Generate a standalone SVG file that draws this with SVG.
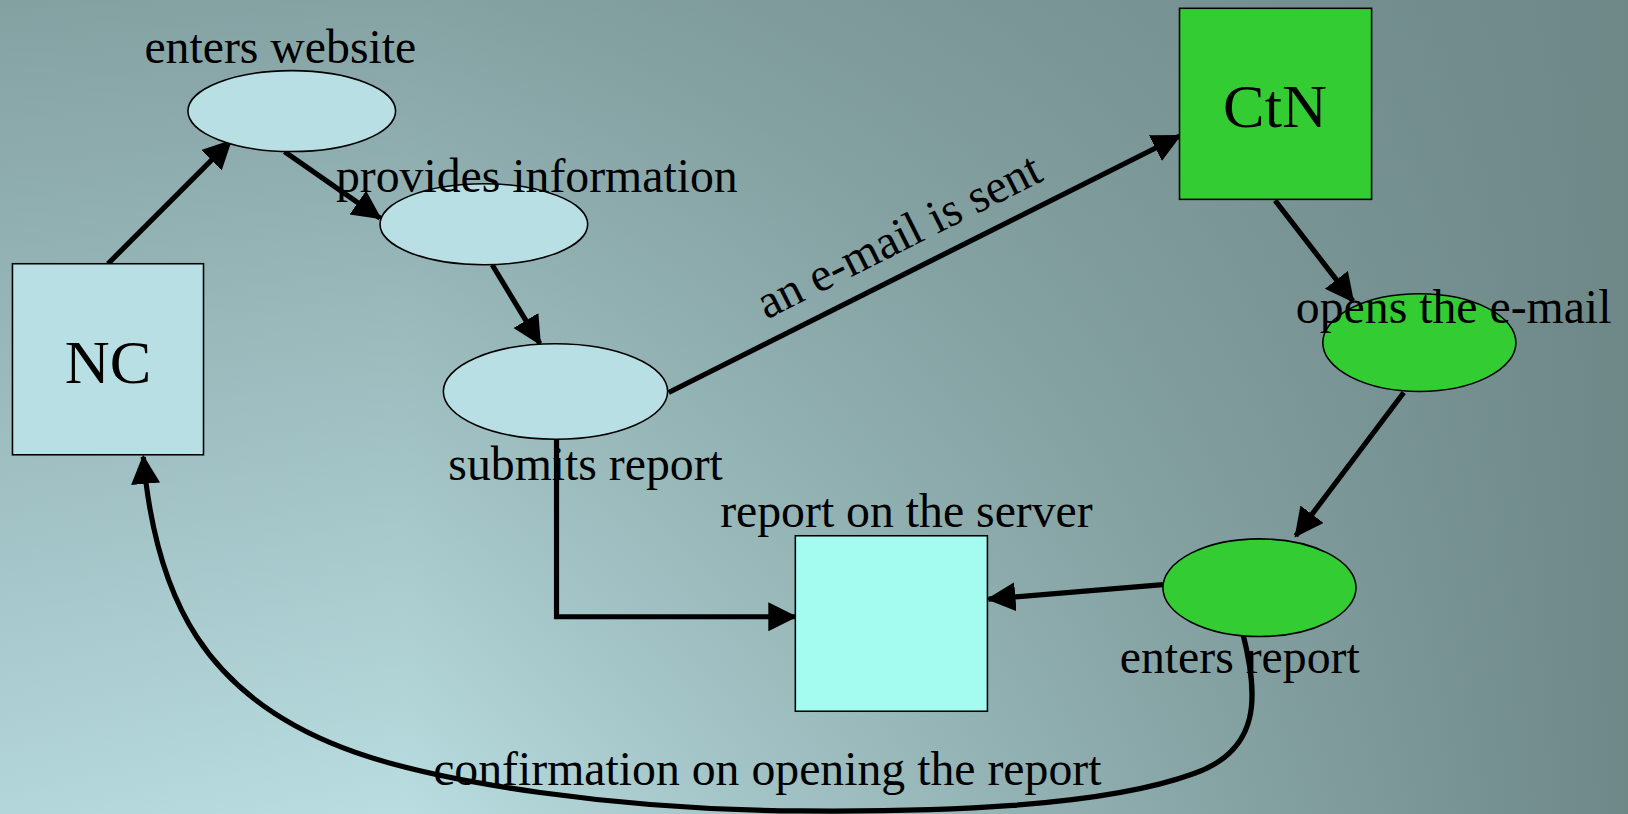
<svg xmlns="http://www.w3.org/2000/svg" width="1628" height="814" viewBox="0 0 1628 814">
<defs>
<linearGradient id="bgH" gradientUnits="userSpaceOnUse" x1="0" y1="0" x2="1628" y2="0">
<stop offset="0" stop-color="#b3d6da"/>
<stop offset="0.25" stop-color="#b9dde0"/>
<stop offset="1" stop-color="#6e8888"/>
</linearGradient>
<linearGradient id="bgV" gradientUnits="userSpaceOnUse" x1="0" y1="0" x2="0" y2="814">
<stop offset="0" stop-color="#6e8888" stop-opacity="0.68"/>
<stop offset="1" stop-color="#6e8888" stop-opacity="0"/>
</linearGradient>
<marker id="arr" markerUnits="userSpaceOnUse" markerWidth="30" markerHeight="30" refX="26" refY="14" orient="auto" viewBox="0 0 30 30">
<path d="M0,0 L28,14 L0,28 z" fill="#000"/>
</marker>
<style>
.lt{fill:#b8dfe3;stroke:#000;stroke-width:1.5}
.gr{fill:#33cc33;stroke:#000;stroke-width:1.5}
.sv{fill:#a3fcef;stroke:#000;stroke-width:1.5}
.e{fill:none;stroke:#000;stroke-width:5;marker-end:url(#arr)}
text{font-family:"Liberation Serif","Times New Roman",serif;font-size:46px;fill:#000;text-anchor:middle}
.big{font-size:60px}
</style>
</defs>
<rect x="0" y="0" width="1628" height="814" fill="url(#bgH)"/>
<rect x="0" y="0" width="1628" height="814" fill="url(#bgV)"/>
<g transform="scale(1.0383)">
<g id="connectors">
<path class="e" d="M104,254 L222,136"/>
<path class="e" d="M274,146 L366,210"/>
<path class="e" d="M474,255 L520,331"/>
<path class="e" d="M644,378 L1136,131"/>
<path class="e" d="M1228,193 L1303,290"/>
<path class="e" d="M1352,378 L1248,516"/>
<path class="e" d="M1120,563 L952,577"/>
<path class="e" d="M536,423 L536,594 L766,594"/>
<path class="e" d="M1197,610 C1212,670 1215,722 1150,745 C1060,778 900,782 771,781 C600,780 420,755 330,720 C200,670 150,580 138,440"/>
</g>
<g id="nc"><rect class="lt" x="12" y="254" width="184" height="184"/><text class="big" x="104" y="369">NC</text></g>
<g id="ctn"><rect class="gr" x="1136" y="8" width="185" height="184"/><text class="big" x="1228" y="122">CtN</text></g>
<g id="server"><rect class="sv" x="766" y="516" width="185" height="169"/><text x="873" y="508">report on the server</text></g>
<g id="enters-website"><ellipse class="lt" cx="281" cy="107" rx="100" ry="39"/><text x="270" y="61">enters website</text></g>
<g id="provides-information"><ellipse class="lt" cx="466" cy="216" rx="100" ry="39"/><text x="517" y="185">provides information</text></g>
<g id="submits-report"><ellipse class="lt" cx="535" cy="377" rx="108" ry="46"/><text x="564" y="462">submits report</text></g>
<g id="opens-email"><ellipse class="gr" cx="1367" cy="330" rx="93" ry="47"/><text x="1400" y="311">opens the e-mail</text></g>
<g id="enters-report"><ellipse class="gr" cx="1213" cy="566" rx="93" ry="47"/><text x="1194" y="648">enters report</text></g>
<g id="edge-labels">
<text transform="translate(866,228) rotate(-26.7)" x="0" y="14">an e-mail is sent</text>
<text x="739" y="756">confirmation on opening the report</text>
</g>
</g>
</svg>
